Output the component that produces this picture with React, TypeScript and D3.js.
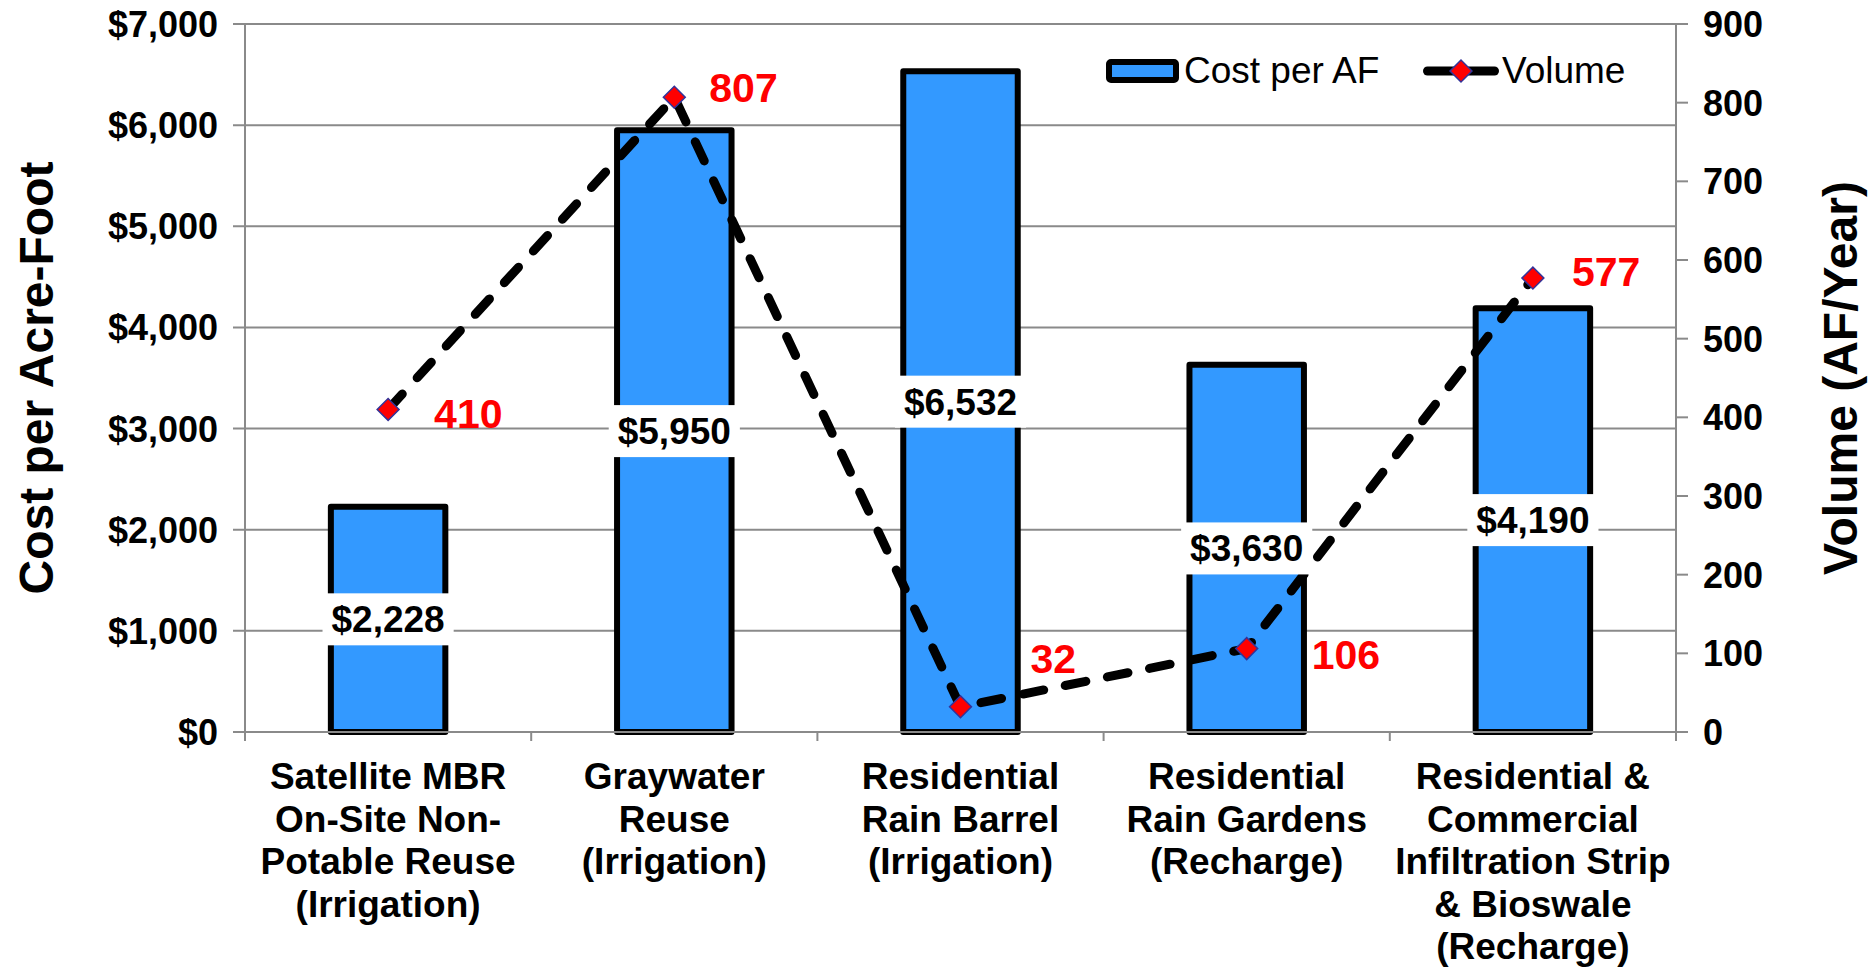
import React from "react";
import * as d3 from "d3";

const categories: string[][] = [
  ["Satellite MBR", "On-Site Non-", "Potable Reuse", "(Irrigation)"],
  ["Graywater", "Reuse", "(Irrigation)"],
  ["Residential", "Rain Barrel", "(Irrigation)"],
  ["Residential", "Rain Gardens", "(Recharge)"],
  ["Residential &", "Commercial", "Infiltration Strip", "& Bioswale", "(Recharge)"],
];
const costPerAF: number[] = [2228, 5950, 6532, 3630, 4190];
const volume: number[] = [410, 807, 32, 106, 577];
const leftTicks: number[] = [0, 1000, 2000, 3000, 4000, 5000, 6000, 7000];
const rightTicks: number[] = [0, 100, 200, 300, 400, 500, 600, 700, 800, 900];
// manual placement of the red volume labels relative to their point
const volLabelDx: number[] = [46, 35, 70, 65, 39];
const volLabelDy: number[] = [4, -10, -49, 5, -7];

const W = 1875;
const H = 968;
const X0 = 245;
const X1 = 1676;
const YT = 24;
const YB = 732;
const AXIS = "#8a8a8a";
const FONT = "'Liberation Sans', Arial, sans-serif";

const keys = categories.map((_, i) => String(i));

function boldWidth(s: string, size: number): number {
  let w = 0;
  for (const ch of s) {
    if (ch === "," || ch === ".") w += 0.278;
    else w += 0.556;
  }
  return w * size;
}

export default function App() {
  const x = d3.scaleBand<string>().domain(keys).range([X0, X1]).paddingInner(0.6).paddingOuter(0.3);
  const step = x.step();
  const yL = d3.scaleLinear().domain([0, 7000]).range([YB, YT]);
  const yR = d3.scaleLinear().domain([0, 900]).range([YB, YT]);
  const cx = (i: number) => (x(keys[i]) as number) + x.bandwidth() / 2;

  const line = d3
    .line<number>()
    .x((_, i) => cx(i))
    .y((d) => yR(d));
  const diamond = d3.symbol().type(d3.symbolSquare).size(240)();
  const fmt = d3.format(",");

  const boundaries = d3.range(categories.length + 1).map((i) => X0 + i * step);

  return (
    <svg
      width={W}
      height={H}
      style={{ position: "absolute", left: 0, top: 0, background: "#fff" }}
      fontFamily={FONT}
    >
      {/* gridlines */}
      {leftTicks.map((t) => (
        <line key={"g" + t} x1={X0 - 12} x2={X1} y1={yL(t)} y2={yL(t)} stroke={AXIS} strokeWidth={2} />
      ))}
      {/* axes */}
      <line x1={X0} x2={X0} y1={YT} y2={YB + 9} stroke={AXIS} strokeWidth={2} />
      <line x1={X1} x2={X1} y1={YT} y2={YB + 9} stroke={AXIS} strokeWidth={2} />
      {rightTicks.map((t) => (
        <line key={"rt" + t} x1={X1} x2={X1 + 12} y1={yR(t)} y2={yR(t)} stroke={AXIS} strokeWidth={2} />
      ))}
      {boundaries.map((b, i) => (
        <line key={"xt" + i} x1={b} x2={b} y1={YB} y2={YB + 9} stroke={AXIS} strokeWidth={2} />
      ))}

      {/* left tick labels */}
      {leftTicks.map((t) => (
        <text
          key={"lt" + t}
          x={218}
          y={yL(t) + 13}
          textAnchor="end"
          fontSize={36}
          fontWeight="bold"
        >
          {"$" + fmt(t)}
        </text>
      ))}
      {/* right tick labels */}
      {rightTicks.map((t) => (
        <text key={"rl" + t} x={1703} y={yR(t) + 13} textAnchor="start" fontSize={36} fontWeight="bold">
          {t}
        </text>
      ))}

      {/* axis titles */}
      <text
        transform={`translate(36,${(YT + YB) / 2}) rotate(-90)`}
        textAnchor="middle"
        dominantBaseline="central"
        fontSize={48}
        fontWeight="bold"
      >
        Cost per Acre-Foot
      </text>
      <text
        transform={`translate(1840,${(YT + YB) / 2}) rotate(-90)`}
        textAnchor="middle"
        dominantBaseline="central"
        fontSize={48}
        fontWeight="bold"
      >
        Volume (AF/Year)
      </text>

      {/* category labels */}
      {categories.map((lines, i) => (
        <text key={"c" + i} textAnchor="middle" fontSize={37} fontWeight="bold">
          {lines.map((l, j) => (
            <tspan key={j} x={cx(i)} y={789 + j * 42.5}>
              {l}
            </tspan>
          ))}
        </text>
      ))}

      {/* bars */}
      {costPerAF.map((v, i) => (
        <rect
          key={"b" + i}
          x={x(keys[i])}
          width={x.bandwidth()}
          y={yL(v)}
          height={yL(0) - yL(v)}
          fill="#3399ff"
          stroke="#000"
          strokeWidth={6}
          strokeLinejoin="round"
        />
      ))}
      {/* redraw bottom axis over bar bottoms */}
      <line x1={X0} x2={X1} y1={YB} y2={YB} stroke={AXIS} strokeWidth={2} />

      {/* volume line */}
      <path
        d={line(volume) || ""}
        fill="none"
        stroke="#000"
        strokeWidth={9}
        strokeDasharray="21 22"
        strokeLinecap="round"
        strokeLinejoin="round"
      />
      {volume.map((v, i) => (
        <path
          key={"m" + i}
          d={diamond || ""}
          transform={`translate(${cx(i)},${yR(v)}) rotate(45)`}
          fill="#ff0000"
          stroke="#333399"
          strokeWidth={1.5}
        />
      ))}

      {/* bar value labels */}
      {costPerAF.map((v, i) => {
        const s = "$" + fmt(v);
        const tw = boldWidth(s, 37);
        const my = (yL(v) + yL(0)) / 2;
        return (
          <g key={"bl" + i}>
            <rect x={cx(i) - tw / 2 - 9} y={my - 26} width={tw + 18} height={52} fill="#fff" />
            <text x={cx(i)} y={my + 13} textAnchor="middle" fontSize={37} fontWeight="bold">
              {s}
            </text>
          </g>
        );
      })}

      {/* volume labels */}
      {volume.map((v, i) => (
        <text
          key={"vl" + i}
          x={cx(i) + volLabelDx[i]}
          y={yR(v) + volLabelDy[i] + 15}
          fontSize={41}
          fontWeight="bold"
          fill="#ff0000"
        >
          {v}
        </text>
      ))}

      {/* legend */}
      <rect x={1109} y={62} width={67} height={18} rx={2} fill="#3399ff" stroke="#000" strokeWidth={6} />
      <text x={1184} y={83} fontSize={37}>
        Cost per AF
      </text>
      <line x1={1427.5} x2={1494.5} y1={71} y2={71} stroke="#000" strokeWidth={9} strokeLinecap="round" />
      <path d={diamond || ""} transform="translate(1461,71) rotate(45)" fill="#ff0000" stroke="#333399" strokeWidth={1.5} />
      <text x={1502} y={83} fontSize={37}>
        Volume
      </text>
    </svg>
  );
}
